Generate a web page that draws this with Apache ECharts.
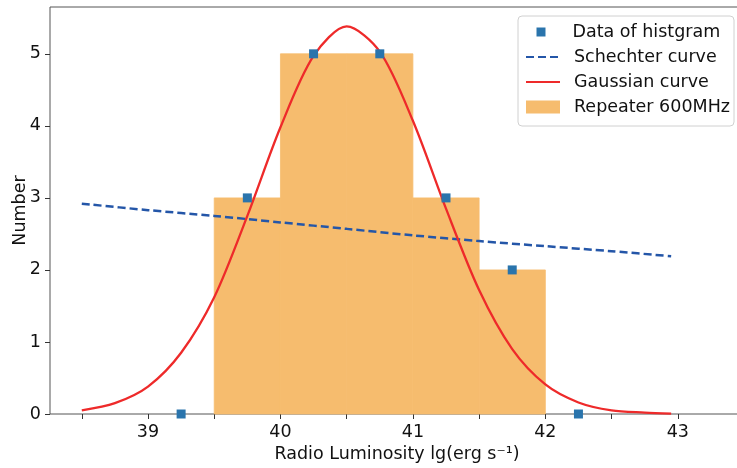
<!DOCTYPE html>
<html>
<head>
<meta charset="utf-8">
<script src="https://cdn.jsdelivr.net/npm/echarts@6/dist/echarts.min.js"></script>
<style>
    body { margin: 0; background: #fff; }
    #chart { width: 737px; height: 468px; }
</style>
</head>
<body>
<div id="chart"></div>
<script>
    // histogram bins (edges) and counts
    var binEdges = [39, 39.5, 40, 40.5, 41, 41.5, 42, 42.5];
    var binCenters = [39.25, 39.75, 40.25, 40.75, 41.25, 41.75, 42.25];
    var counts = [0, 3, 5, 5, 3, 2, 0];

    // curves
    var schechterX = [38.5, 39, 39.5, 40, 40.5, 41, 41.5, 42, 42.5, 42.95];
    var schechterY = [2.92, 2.83, 2.75, 2.66, 2.57, 2.48, 2.40, 2.33, 2.26, 2.19];
    var gaussX = [38.5, 38.75, 39, 39.25, 39.5, 39.75, 40, 40.25, 40.5, 40.75, 41, 41.25, 41.5, 41.75, 42, 42.25, 42.5, 42.75, 42.95];
    var gaussY = [0.05, 0.15, 0.38, 0.85, 1.62, 2.75, 3.98, 4.97, 5.38, 5.03, 4.07, 2.85, 1.72, 0.90, 0.41, 0.16, 0.05, 0.02, 0.005];

    var xLabels = [39, 40, 41, 42, 43];
    var xTicks = [38.5, 39, 39.5, 40, 40.5, 41, 41.5, 42, 42.5, 43];

    var font = 'DejaVu Sans';
    var fs = 17.5;
    var barColor = '#f6bc6e';

    var barData = [];
    for (var i = 0; i < counts.length; i++) {
        barData.push([binEdges[i], binEdges[i + 1], counts[i]]);
    }
    var pts = binCenters.map(function (x, i) { return [x, counts[i]]; });
    var schechter = schechterX.map(function (x, i) { return [x, schechterY[i]]; });
    var gauss = gaussX.map(function (x, i) { return [x, gaussY[i]]; });

    var option = {
        animation: false,
        textStyle: { fontFamily: font },
        grid: {
            left: 50, top: 7, width: 694, height: 407,
            outerBoundsMode: 'none',
            show: true, borderColor: '#555', borderWidth: 1
        },
        graphic: [{
            type: 'rect', z: 5,
            shape: { x: 518, y: 16, width: 216, height: 110, r: 4 },
            style: { fill: 'rgba(255,255,255,0.85)', stroke: '#d0d0d0', lineWidth: 1 }
        }],
        legend: [{
            data: [{ name: 'Data of histgram', icon: 'rect' }],
            orient: 'vertical', left: 536.5, top: 22, padding: 0, z: 10,
            itemWidth: 9, itemHeight: 9,
            textStyle: { fontFamily: font, fontSize: fs, color: '#111', lineHeight: 20, padding: [0, 0, 0, 22] }
        }, {
            data: [
                { name: 'Schechter curve', itemStyle: { opacity: 0 } },
                { name: 'Gaussian curve', itemStyle: { opacity: 0 } },
                { name: 'Repeater 600MHz', icon: 'rect' }
            ],
            orient: 'vertical', left: 525, top: 47, padding: 0, itemGap: 5, z: 10,
            itemWidth: 34, itemHeight: 13,
            textStyle: { fontFamily: font, fontSize: fs, color: '#111', lineHeight: 20, padding: [0, 0, 0, 9] }
        }],
        xAxis: {
            type: 'value', min: 38.26, max: 43.5,
            name: 'Radio Luminosity lg(erg s⁻¹)',
            nameLocation: 'middle', nameGap: 31,
            nameTextStyle: { fontFamily: font, fontSize: fs, color: '#111' },
            axisLine: { show: false },
            axisTick: { show: true, length: 5, customValues: xTicks, lineStyle: { color: '#333' } },
            axisLabel: { customValues: xLabels, margin: 9, fontFamily: font, fontSize: fs, color: '#111' },
            splitLine: { show: false }
        },
        yAxis: {
            type: 'value', min: 0, max: 5.65, interval: 1,
            name: 'Number',
            nameLocation: 'middle', nameGap: 21, nameMoveOverlap: false,
            nameTextStyle: { fontFamily: font, fontSize: fs, color: '#111' },
            axisLine: { show: false },
            axisTick: { show: true, length: 5, lineStyle: { color: '#333' } },
            axisLabel: { margin: 9, fontFamily: font, fontSize: fs, color: '#111', showMaxLabel: false },
            splitLine: { show: false }
        },
        series: [{
            name: 'Repeater 600MHz',
            type: 'custom',
            z: 1,
            itemStyle: { color: barColor },
            renderItem: function (params, api) {
                // empty bins draw nothing
                if (!api.value(2)) {
                    return null;
                }
                var p0 = api.coord([api.value(0), api.value(2)]);
                var p1 = api.coord([api.value(1), 0]);
                return {
                    type: 'rect',
                    shape: { x: p0[0], y: p0[1], width: p1[0] - p0[0], height: p1[1] - p0[1] },
                    style: { fill: barColor, stroke: barColor, lineWidth: 0.8 }
                };
            },
            encode: { x: [0, 1], y: 2 },
            data: barData
        }, {
            name: 'Schechter curve',
            type: 'line',
            z: 3,
            symbol: 'none',
            smooth: 0.3,
            lineStyle: { color: '#2456a8', width: 2.5, type: [8, 4] },
            itemStyle: { color: '#2456a8' },
            data: schechter
        }, {
            name: 'Gaussian curve',
            type: 'line',
            z: 3,
            symbol: 'none',
            smooth: 0.3,
            lineStyle: { color: '#ee2a2a', width: 2.3 },
            itemStyle: { color: '#ee2a2a' },
            data: gauss
        }, {
            name: 'Data of histgram',
            type: 'scatter',
            z: 4,
            symbol: 'rect',
            symbolSize: 9,
            itemStyle: { color: '#2a74ac', opacity: 1 },
            data: pts
        }]
    };

    var chart = echarts.init(document.getElementById('chart'));
    chart.setOption(option);
</script>
</body>
</html>
